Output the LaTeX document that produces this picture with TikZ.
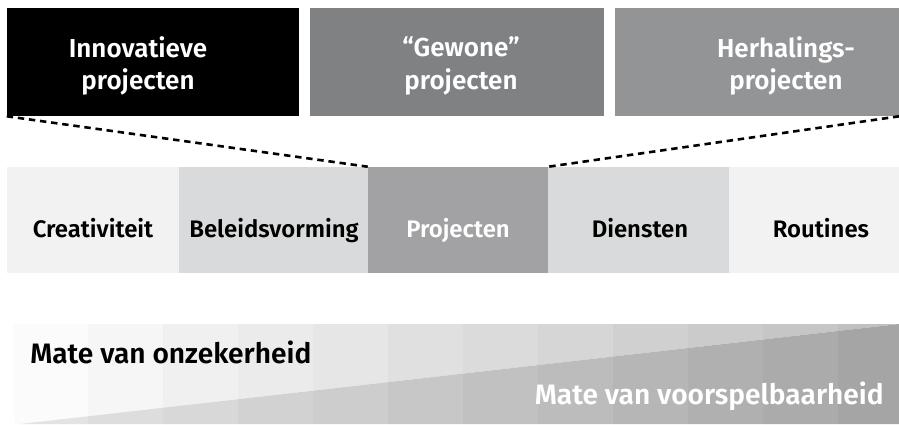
\documentclass[tikz,border=0pt]{standalone}
\usepackage{fontspec}
\setmainfont{Fira Sans SemiBold}
\usepackage{xcolor}
\usepackage{tikz}
\usetikzlibrary{
	positioning
}

\definecolor{boxmid}{RGB}{128,129,131}
\definecolor{boxlight}{RGB}{147,148,150}
\definecolor{celllight}{RGB}{242,242,242}
\definecolor{cellmid}{RGB}{217,218,219}
\definecolor{celldark}{RGB}{162,162,164}

\tikzset{
	topbox/.style={inner sep=0pt, minimum height=108*0.25mm},
	toplabel/.style={text=white, align=center, font=\fontsize{18.5}{23}\selectfont},
	cell/.style={inner sep=0pt, minimum height=106*0.25mm, font=\fontsize{17}{20}\selectfont},
	scalelabel/.style={inner sep=0pt, font=\fontsize{20}{24}\selectfont}
}

\begin{document}
\begin{tikzpicture}[x=0.25mm,y=-0.25mm]
	\useasboundingbox (0,0) rectangle (899,424);
	% top boxes
	\node[topbox, fill=black, minimum width=292*0.25mm] (T1) at (153,62) {};
	\node[topbox, fill=boxmid, minimum width=294*0.25mm] (T2) at (457,62) {};
	\node[topbox, fill=boxlight, minimum width=284*0.25mm] (T3) at (757,62) {};
	\node[toplabel] (L1) at (138,66) {Innovatieve\\projecten};
	\node[toplabel] (L2) at (461,66) {“Gewone”\\projecten};
	\node[toplabel] (L3) at (786,66) {Herhalings-\\projecten};
	% middle row
	\node[cell, fill=celllight, minimum width=172*0.25mm] (C1) at (93,220) {};
	\node[cell, fill=cellmid, minimum width=189*0.25mm] (C2) at (273.5,220) {};
	\node[cell, fill=celldark, minimum width=180*0.25mm] (C3) at (458,220) {};
	\node[cell, fill=cellmid, minimum width=181*0.25mm] (C4) at (638.5,220) {};
	\node[cell, fill=celllight, minimum width=170*0.25mm] (C5) at (814,220) {};
	\node[cell, anchor=base] (W1) at (93,237) {Creativiteit};
	\node[cell, anchor=base] (W2) at (274,237) {Beleidsvorming};
	\node[cell, anchor=base, text=white] (W3) at (458,237) {Projecten};
	\node[cell, anchor=base] (W4) at (640,237) {Diensten};
	\node[cell, anchor=base] (W5) at (821,237) {Routines};
	%
	\path[line width=0.65mm, dash pattern=on 1.6mm off 1.2mm]
	(T1.south west) edge (C3.north west)
	(T3.south east) edge (C3.north east);
	% scale at the bottom
	\begin{scope}
		\clip (7,324) -- (899,324) -- (20,424) -- (15,424) -- cycle;
		\foreach \i in {0,...,11} {
			\pgfmathsetmacro\pct{1.5+2.1*\i}
			\fill[black!\pct] (13+75*\i,320) rectangle (88+75*\i,430);
		}
	\end{scope}
	\begin{scope}
		\clip (20,424) -- (899,324) -- (899,424) -- cycle;
		\foreach \i in {0,...,11} {
			\pgfmathsetmacro\pct{11+2.2*\i}
			\fill[black!\pct] (13+75*\i,320) rectangle (88+75*\i,430);
		}
	\end{scope}
	\node[scalelabel, anchor=base west] (S1) at (30,363) {Mate van onzekerheid};
	\node[scalelabel, anchor=base east, text=white] (S2) at (884,404) {Mate van voorspelbaarheid};
\end{tikzpicture}
\end{document}
